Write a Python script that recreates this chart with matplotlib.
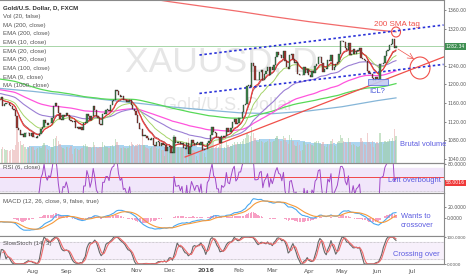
import numpy as np
import pandas as pd
import matplotlib
matplotlib.use("Agg")
import matplotlib.pyplot as plt
from matplotlib.patches import Ellipse, Rectangle

# daily closes XAUUSD (FXCM), Jul 2015 - Jun 17 2016
close_jul15 = [1168, 1165, 1168, 1173, 1154, 1158, 1161, 1159, 1156, 1154, 1147, 1146, 1132, 1107, 1103, 1091, 1093, 1086, 1096, 1095, 1095, 1088, 1095]
close_aug15 = [1086, 1086, 1085, 1089, 1094, 1104, 1108, 1123, 1116, 1113, 1118, 1117, 1127, 1153, 1160, 1154, 1139, 1125, 1124, 1134, 1133]
close_sep15 = [1139, 1134, 1124, 1121, 1120, 1121, 1106, 1109, 1104, 1108, 1103, 1118, 1118, 1137, 1133, 1124, 1131, 1153, 1145, 1131, 1127, 1115]
close_oct15 = [1113, 1137, 1137, 1146, 1146, 1143, 1156, 1164, 1166, 1187, 1186, 1177, 1172, 1175, 1166, 1167, 1163, 1163, 1167, 1156, 1147, 1142]
close_nov15 = [1134, 1116, 1105, 1104, 1088, 1092, 1089, 1085, 1081, 1081, 1084, 1070, 1068, 1077, 1077, 1067, 1073, 1070, 1070, 1056, 1065]
close_dec15 = [1068, 1053, 1053, 1086, 1075, 1075, 1076, 1071, 1075, 1063, 1062, 1074, 1050, 1065, 1080, 1075, 1069, 1075, 1075, 1069, 1077, 1060, 1061]
close_jan16 = [1061, 1075, 1078, 1092, 1108, 1098, 1096, 1086, 1086, 1073, 1089, 1087, 1089, 1107, 1098, 1097, 1107, 1119, 1126, 1114, 1117]
close_feb16 = [1128, 1128, 1141, 1156, 1158, 1197, 1198, 1194, 1247, 1239, 1209, 1209, 1210, 1227, 1230, 1209, 1223, 1228, 1238, 1221, 1238]
close_mar16 = [1231, 1242, 1259, 1270, 1264, 1263, 1257, 1272, 1250, 1238, 1233, 1263, 1265, 1255, 1245, 1248, 1222, 1221, 1220, 1220, 1237, 1225, 1233]
close_apr16 = [1221, 1217, 1229, 1225, 1240, 1243, 1258, 1260, 1245, 1227, 1234, 1234, 1253, 1250, 1264, 1231, 1238, 1243, 1249, 1266, 1293]
close_may16 = [1294, 1291, 1279, 1275, 1290, 1264, 1265, 1277, 1265, 1272, 1274, 1278, 1257, 1254, 1252, 1251, 1229, 1224, 1223, 1213, 1207, 1215]
close_jun16 = [1212, 1210, 1243, 1244, 1246, 1262, 1271, 1275, 1284, 1286, 1297, 1278, 1282.34]

vol_jul15 = [90, 85, 70, 95, 110, 95, 90, 85, 80, 85, 95, 90, 120, 230, 140, 150, 120, 130, 110, 95, 100, 115, 110]
vol_aug15 = [105, 90, 95, 100, 110, 100, 120, 135, 115, 95, 90, 95, 110, 160, 170, 180, 150, 130, 110, 100, 95]
vol_sep15 = [110, 105, 100, 115, 60, 95, 100, 95, 90, 95, 100, 120, 130, 115, 110, 105, 110, 140, 120, 110, 100, 105]
vol_oct15 = [110, 140, 120, 110, 105, 100, 115, 120, 110, 160, 140, 120, 100, 100, 110, 100, 95, 100, 120, 140, 130, 110]
vol_nov15 = [120, 125, 130, 120, 180, 120, 110, 100, 95, 100, 105, 110, 120, 100, 95, 100, 90, 85, 50, 110, 95]
vol_dec15 = [100, 110, 150, 190, 120, 110, 105, 100, 100, 110, 115, 140, 170, 130, 100, 90, 80, 50, 20, 70, 80, 90, 70]
vol_jan16 = [40, 110, 120, 140, 170, 150, 110, 115, 110, 120, 130, 90, 110, 140, 120, 110, 115, 130, 140, 130, 140]
vol_feb16 = [130, 140, 150, 160, 170, 200, 190, 180, 240, 200, 170, 150, 140, 160, 150, 140, 135, 140, 150, 160, 140]
vol_mar16 = [140, 150, 170, 180, 160, 150, 145, 180, 170, 140, 130, 190, 170, 150, 120, 115, 140, 120, 80, 90, 140, 120, 130]
vol_apr16 = [130, 125, 120, 115, 140, 145, 150, 130, 125, 140, 115, 110, 130, 120, 145, 160, 120, 115, 140, 150, 190]
vol_may16 = [170, 150, 140, 135, 170, 140, 120, 125, 120, 115, 110, 115, 170, 150, 130, 120, 200, 140, 130, 150, 110, 130]
vol_jun16 = [140, 130, 200, 140, 130, 150, 140, 150, 160, 150, 170, 230, 180]

# slow averages (monthly points)
ma_dates = ["2015-07-01", "2015-08-03", "2015-09-01", "2015-10-01", "2015-11-02", "2015-12-01", "2016-01-01",
            "2016-02-01", "2016-03-01", "2016-04-01", "2016-05-02", "2016-06-01", "2016-06-17"]
ma1000 = [1432, 1421, 1411, 1400, 1389, 1378, 1367, 1357, 1346, 1335, 1326, 1317, 1313]
ma200 = [1192, 1185, 1177, 1168, 1160, 1152, 1145, 1139, 1137, 1143, 1152, 1165, 1171]
# EMA starting values at the left edge
ema_seed = {9: 1168, 10: 1168, 20: 1172, 50: 1182, 100: 1190, 200: 1213}

month_ticks = ["2015-08-03", "2015-09-01", "2015-10-01", "2015-11-02", "2015-12-01", "2016-01-01",
               "2016-02-01", "2016-03-01", "2016-04-01", "2016-05-02", "2016-06-01", "2016-07-01"]
month_labels = ["Aug", "Sep", "Oct", "Nov", "Dec", "2016", "Feb", "Mar", "Apr", "May", "Jun", "Jul"]

close = np.array(close_jul15 + close_aug15 + close_sep15 + close_oct15 + close_nov15 + close_dec15 +
                 close_jan16 + close_feb16 + close_mar16 + close_apr16 + close_may16 + close_jun16, dtype=float)
volume = np.array(vol_jul15 + vol_aug15 + vol_sep15 + vol_oct15 + vol_nov15 + vol_dec15 +
                  vol_jan16 + vol_feb16 + vol_mar16 + vol_apr16 + vol_may16 + vol_jun16, dtype=float)
start = "2015-07-01"
x = np.arange(len(close))
opn = np.concatenate([[1170.0], close[:-1]])
hi = np.maximum(opn, close)
lo = np.minimum(opn, close)


def bidx(d):
    return np.busday_count(start, np.array(d, dtype="datetime64[D]"))


def ema(v, n, seed):
    a = 2.0 / (n + 1)
    out = np.empty(len(v))
    prev = seed
    for i, val in enumerate(v):
        prev = a * val + (1 - a) * prev
        out[i] = prev
    return out


def rsi(v, n):
    d = np.diff(v)
    g = np.where(d > 0, d, 0.0)
    l = np.where(d < 0, -d, 0.0)
    out = np.full(len(v), np.nan)
    ag, al = g[:n].mean(), l[:n].mean()
    for i in range(n, len(d)):
        ag = (ag * (n - 1) + g[i]) / n
        al = (al * (n - 1) + l[i]) / n
        out[i + 1] = 100 - 100 / (1 + ag / al) if al > 0 else 100
    return out


def sma(v, n):
    return pd.Series(v).rolling(n).mean().values


# indicators
macd = ema(close, 12, 1172) - ema(close, 26, 1180)
signal = ema(macd, 9, -6)
hist = macd - signal
r6 = rsi(close, 6)
ll = pd.Series(lo).rolling(14, min_periods=1).min().values
hh = pd.Series(hi).rolling(14, min_periods=1).max().values
fastk = 100 * (close - ll) / np.maximum(hh - ll, 1e-9)
slowk = sma(fastk, 3)
slowd = sma(slowk, 3)
vol_ma = sma(volume, 20)

W, H = 466, 275
XL = (2.2, 282.3)
fig = plt.figure(figsize=(W / 100, H / 100), dpi=100)
fig.patch.set_facecolor("white")
note_font = "Liberation Sans"


def pane(top, bottom):
    return fig.add_axes([0, 1 - bottom / H, 444 / W, (bottom - top) / H])


def px2x(px):
    return XL[0] + px / 444 * (XL[1] - XL[0])


ax = pane(0, 163)
ax_rsi = pane(163, 193)
ax_macd = pane(193, 236)
ax_st = pane(236, 264)

# volume on twin axis (twinx moves ax ticks to the left, so style afterwards)
axv = ax.twinx()
axv.set_ylim(0, 1087)
axv.set_xlim(*XL)
axv.axis("off")

for a in (ax, ax_rsi, ax_macd, ax_st):
    a.set_xlim(*XL)
    a.set_xticks([])
    a.yaxis.tick_right()
    a.yaxis.set_label_position("right")
    a.tick_params(axis="y", which="both", left=False, labelleft=False, right=True, labelright=True,
                  labelsize=3.3, colors="#555", length=1.5, width=0.5, pad=0.8)
    a.spines["left"].set_visible(False)
    for s in ("top", "bottom", "right"):
        a.spines[s].set_color("#8a8a8a")
        a.spines[s].set_linewidth(0.8)

axv.fill_between(x, 0, vol_ma, step="mid", color="#a2d1ef", alpha=0.9, lw=0)
vcol = np.where(close >= opn, "#9dcc9d", "#e6a9a9")
axv.bar(x, volume, width=0.8, color=vcol, alpha=0.55, lw=0)

ax.set_ylim(1031.0, 1381.5)
pticks = [1040, 1080, 1120, 1160, 1200, 1240, 1320, 1360]
ax.set_yticks(pticks)
ax.set_yticklabels([f"{t:.2f}" for t in pticks])
ax.patch.set_alpha(0)
ax.set_zorder(axv.get_zorder() + 1)

# watermark
ax.text(px2x(221), 1381.5 - 62 / 0.465, "XAUUSD, D", fontsize=25.5, color="#e6e6e6", ha="center", va="center",
        zorder=0, family=note_font)
ax.text(px2x(228), 1381.5 - 105 / 0.465, "Gold/U.S. Dollar", fontsize=13, color="#e6e6e6", ha="center",
        va="center", zorder=0, family=note_font)

# moving averages
ax.plot(bidx(ma_dates), ma1000, color="#f26b6b", lw=0.9)
ax.plot(bidx(ma_dates), ma200, color="#86b6d8", lw=0.9)
ax.plot(x, ema(close, 200, ema_seed[200]), color="#57d957", lw=0.9)
ax.plot(x, ema(close, 100, ema_seed[100]), color="#ff55dd", lw=0.9)
ax.plot(x, ema(close, 50, ema_seed[50]), color="#9b7fd4", lw=0.8)
ax.plot(x, ema(close, 20, ema_seed[20]), color="#a5d46a", lw=0.7)
ax.plot(x, ema(close, 10, ema_seed[10]), color="#8b3a3a", lw=0.5)
ax.plot(x, ema(close, 9, ema_seed[9]), color="#ee3b3b", lw=0.8)

# candles
up = close >= opn
ccol = np.where(up, "#3f8a4d", "#a33a33")
ax.bar(x, np.maximum(hi - lo, 0.8), bottom=lo, width=0.8, color=ccol, edgecolor="#222", lw=0.25, zorder=3)

# last price line + tag
ax.axhline(close[-1], color="#a8d5a8", lw=0.7, zorder=1)
ax.text(px2x(445.5), close[-1], f"{close[-1]:.2f}", fontsize=3.3, color="white",
        va="center", ha="left", clip_on=False,
        bbox=dict(boxstyle="square,pad=0.2", fc="#3f8f52", ec="none"))

# drawings
ax.plot(bidx(["2015-12-28", "2016-07-29"]), [1263.2, 1327.7], color="#2a32d8", lw=1.2, ls=(0, (1.5, 1.5)))
ax.plot(bidx(["2015-12-28", "2016-07-29"]), [1180.6, 1243.0], color="#2a32d8", lw=1.2, ls=(0, (1.5, 1.5)))
ax.plot(bidx(["2015-12-15", "2016-07-29"]), [1043.9, 1258.9], color="#f0504a", lw=0.9)
ax.add_patch(Ellipse((px2x(420), 1381.5 - 68 / 0.465), 20 / 1.585, 22 / 0.465, fill=False, ec="#f0504a", lw=0.8))
ax.add_patch(Ellipse((px2x(396), 1381.5 - 32 / 0.465), 9 / 1.585, 10 / 0.465, fill=False, ec="#f0504a", lw=0.8))
ax.annotate("", xy=(px2x(414), 1381.5 - 59 / 0.465), xytext=(px2x(398), 1381.5 - 49 / 0.465),
            arrowprops=dict(arrowstyle="->", color="#f0504a", lw=0.5, shrinkA=0, shrinkB=0))
ax.add_patch(Rectangle((px2x(368), 1381.5 - 85 / 0.465), 20 / 1.585, 6 / 0.465,
                       fc="#c5cbf2", ec="#5b6ee0", lw=0.6, alpha=0.9, zorder=4))

# RSI pane (zoomed scale, line clips at the edges)
ax_rsi.set_ylim(46.4, 81.2)
ax_rsi.axhspan(49, 75, color="#f1e6fa", zorder=0)
ax_rsi.axhline(49, color="#b9b9b9", lw=0.5, ls=(0, (1, 1)))
ax_rsi.axhline(65.3, color="#f04848", lw=0.7)
ax_rsi.plot(x, r6, color="#a049c8", lw=0.7)
ax_rsi.set_yticks([80])
ax_rsi.set_yticklabels(["80.0000"])
ax_rsi.text(px2x(445.5), 58.0016, "58.0016", fontsize=3.3, color="white", va="center", ha="left",
            clip_on=False, bbox=dict(boxstyle="square,pad=0.2", fc="#f03a3a", ec="none"))

# MACD pane
ax_macd.set_ylim(-32.7, 45.5)
ax_macd.bar(x, hist, width=0.8, color="#f7a0c4", lw=0)
ax_macd.plot(x, macd, color="#4aa8f0", lw=0.8)
ax_macd.plot(x, signal, color="#f59a3c", lw=0.8)
ax_macd.set_yticks([0, 20])
ax_macd.set_yticklabels(["0.0000", "20.0000"])

# Stoch pane
ax_st.set_ylim(0, 103.8)
ax_st.axhspan(20, 80, color="#f7f0fb", zorder=0)
ax_st.axhline(80, color="#aaa", lw=0.5, ls=(0, (1, 1)))
ax_st.axhline(20, color="#aaa", lw=0.5, ls=(0, (1, 1)))
ax_st.plot(x, slowk, color="#666", lw=0.8)
ax_st.plot(x, slowd, color="#ef6b6b", lw=0.8)
ax_st.set_yticks([0, 100])
ax_st.set_yticklabels(["0.0000", "100.0000"])
ax_st.tick_params(axis="y", labelsize=3.0, pad=0.6)


def ptext(px, py, s, **kw):
    fig.text(px / W, 1 - py / H, s, **kw)


# x axis labels
for d, lab in zip(month_ticks, month_labels):
    px = (bidx(d) - XL[0]) / (XL[1] - XL[0]) * 444
    ptext(px, 271, lab, fontsize=4.4, color="#555", ha="center", va="center",
          fontweight="bold" if lab == "2016" else "normal")

legend = ["Vol (20, false)", "MA (200, close)", "EMA (200, close)", "EMA (10, close)", "EMA (20, close)",
          "EMA (50, close)", "EMA (100, close)", "EMA (9, close)", "MA (1000, close)"]
ptext(3, 8, "Gold/U.S. Dollar, D, FXCM", fontsize=4.4, color="#333", va="center", fontweight="bold",
      family=note_font)
for i, s in enumerate(legend):
    ptext(3, 16.8 + 8.6 * i, s, fontsize=4.4, color="#555", va="center", family=note_font)
ptext(3, 168, "RSI (6, close)", fontsize=4.4, color="#555", va="center", family=note_font)
ptext(3, 201, "MACD (12, 26, close, 9, false, true)", fontsize=4.4, color="#555", va="center", family=note_font)
ptext(3, 243, "SlowStoch (14, 3)", fontsize=4.4, color="#555", va="center", family=note_font)

ptext(397, 24, "200 SMA tag", fontsize=5.8, color="#f0504a", ha="center", va="center", family=note_font)
ptext(377, 92, "ICL?", fontsize=5.4, color="#3d4fd6", ha="center", va="center", family=note_font)
blue = "#5a5ae0"
ptext(423, 145, "Brutal volume", fontsize=5.4, color=blue, ha="center", va="center", family=note_font)
ptext(414, 181, "Left overbought", fontsize=5.4, color=blue, ha="center", va="center", family=note_font)
ptext(401, 217, "Wants to", fontsize=5.4, color=blue, ha="left", va="center", family=note_font)
ptext(401, 225.5, "crossover", fontsize=5.4, color=blue, ha="left", va="center", family=note_font)
ptext(416, 255, "Crossing over", fontsize=5.4, color=blue, ha="center", va="center", family=note_font)

fig.savefig("out.png", dpi=100)
